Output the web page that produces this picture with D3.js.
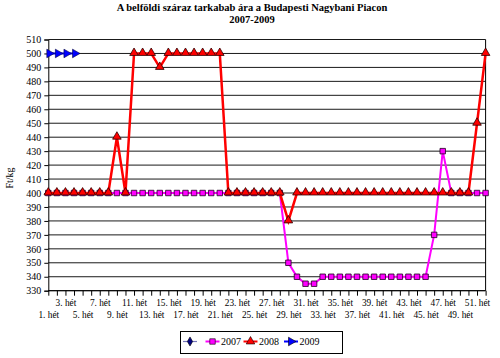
<!DOCTYPE html>
<html><head><meta charset="utf-8">
<script src="https://cdn.jsdelivr.net/npm/d3@7"></script>
<style>
body{margin:0;background:#fff;}
svg{display:block;}
text{font-family:"Liberation Serif","Times New Roman",serif;fill:#000;}
</style></head><body>
<svg id="c" width="500" height="358"></svg>
<script>
const weeks = d3.range(1,53).map(i => i + ". hét");
const s2007 = [400,400,400,400,400,400,400,400,400,400,400,400,400,400,400,400,400,400,400,400,400,400,400,400,400,400,400,400,
  350,340,335,335,340,340,340,340,340,340,340,340,340,340,340,340,340,370,430,400,400,400,400,400];
const s2008 = [400,400,400,400,400,400,400,400,440,400,500,500,500,490,500,500,500,500,500,500,500,400,400,400,400,400,400,400,
  380,400,400,400,400,400,400,400,400,400,400,400,400,400,400,400,400,400,400,400,400,400,450,500];
const s2009 = [500,500,500,500];
const yTicks = d3.range(330,511,10);
const rowA = weeks.filter((w,i)=> i%4===2);
const rowB = weeks.filter((w,i)=> i%4===0);
const legendNames = ["", "2007", "2008", "2009"];
const titleLines = ["A belföldi száraz tarkabab ára a Budapesti Nagybani Piacon", "2007-2009"];
const yLabel = "Ft/kg";

const svg = d3.select("#c");
const L=48.3, R=485.6, T=39.5, B=290.7;
const x = d3.scalePoint().domain(weeks).range([L,R]);
const y = d3.scaleLinear().domain([330,510]).range([B,T]);

// title
svg.append("g").selectAll("text").data(titleLines).join("text")
  .attr("x",252).attr("y",(d,i)=>11+i*12).attr("text-anchor","middle")
  .attr("font-size","10.5px").attr("font-weight","bold").text(d=>d);

// gridlines
svg.append("g").selectAll("line").data(yTicks).join("line")
  .attr("x1",L).attr("x2",R).attr("y1",d=>y(d)).attr("y2",d=>y(d))
  .attr("stroke","#1a1a1a").attr("stroke-width",1);
// right border
svg.append("line").attr("x1",R).attr("x2",R).attr("y1",T).attr("y2",B).attr("stroke","#000");

// y axis
const ya = svg.append("g").attr("transform",`translate(${L},0)`)
  .call(d3.axisLeft(y).tickValues(yTicks).tickSize(4).tickPadding(3).tickFormat(d3.format("d")));
ya.selectAll("text").attr("font-size","10px").attr("font-family","Liberation Serif, serif");
ya.select(".domain").attr("stroke","#000");

// x axis ticks
const xa = svg.append("g").attr("transform",`translate(0,${B})`)
  .call(d3.axisBottom(x).tickSize(5).tickFormat(""));
xa.select(".domain").remove();
svg.append("line").attr("x1",L).attr("x2",R).attr("y1",B).attr("y2",B).attr("stroke","#000");
const xb = svg.append("g").attr("transform",`translate(0,${B})`)
  .call(d3.axisBottom(x).tickValues(rowA).tickSize(0).tickPadding(9));
xb.select(".domain").remove();
xb.selectAll("text").attr("font-size","9.3px").attr("font-family","Liberation Serif, serif");
const xc = svg.append("g").attr("transform",`translate(0,${B})`)
  .call(d3.axisBottom(x).tickValues(rowB).tickSize(0).tickPadding(21));
xc.select(".domain").remove();
xc.selectAll("text").attr("font-size","9.3px").attr("font-family","Liberation Serif, serif");

// y label
svg.append("text").attr("transform","translate(13,178) rotate(-90)").attr("text-anchor","middle")
  .attr("font-size","10px").text(yLabel);

const line = d3.line().x((d,i)=>x(weeks[i])).y(d=>y(d));
const tri = d3.symbol().type(d3.symbolTriangle).size(32);
const sq = d3.symbol().type(d3.symbolSquare).size(30);
const diamond = d3.symbol().type(d3.symbolDiamond).size(24);

// 2007
svg.append("path").datum(s2007).attr("d",line).attr("fill","none").attr("stroke","#FF00FF").attr("stroke-width",2);
svg.append("g").selectAll("path").data(s2007).join("path")
  .attr("transform",(d,i)=>`translate(${x(weeks[i])},${y(d)})`).attr("d",sq)
  .attr("fill","#FF00FF").attr("stroke","#200020").attr("stroke-width",0.8);
// 2008
svg.append("path").datum(s2008).attr("d",line).attr("fill","none").attr("stroke","#FF0000").attr("stroke-width",2.5);
svg.append("g").selectAll("path").data(s2008).join("path")
  .attr("transform",(d,i)=>`translate(${x(weeks[i])},${y(d)-0.5})`).attr("d",tri)
  .attr("fill","#FF0000").attr("stroke","#300000").attr("stroke-width",0.8);
// 2009
svg.append("path").datum(s2009).attr("d",line).attr("fill","none").attr("stroke","#0000FF").attr("stroke-width",2);
svg.append("g").selectAll("path").data(s2009).join("path")
  .attr("transform",(d,i)=>`translate(${x(weeks[i])+1},${y(d)}) rotate(90)`).attr("d",tri)
  .attr("fill","#0000FF").attr("stroke","#000040").attr("stroke-width",0.6);

// legend
const lg = svg.append("g");
lg.append("rect").attr("x",180.5).attr("y",331.5).attr("width",162).attr("height",22)
  .attr("fill","#fff").attr("stroke","#000").attr("stroke-width",1);
const lx = [190, 212.5, 250.5, 291];
const lcol = ["#7777bb","#FF00FF","#FF0000","#0000FF"];
const lsym = [diamond, sq, tri, tri];
const lfill = ["#000080","#FF00FF","#FF0000","#0000FF"];
legendNames.forEach((n,i)=>{
  lg.append("line").attr("x1",lx[i]-7).attr("x2",lx[i]+7).attr("y1",341.5).attr("y2",341.5)
    .attr("stroke",lcol[i]).attr("stroke-width",i===0?1.2:2);
  lg.append("path").attr("d",lsym[i])
    .attr("transform",`translate(${lx[i]},341.5)`+(i===3?" rotate(90)":""))
    .attr("fill",lfill[i]).attr("stroke","#000").attr("stroke-width",0.6);
  if(n) lg.append("text").attr("x",lx[i]+8.5).attr("y",345).attr("font-size","10px").text(n);
});
</script></body></html>
